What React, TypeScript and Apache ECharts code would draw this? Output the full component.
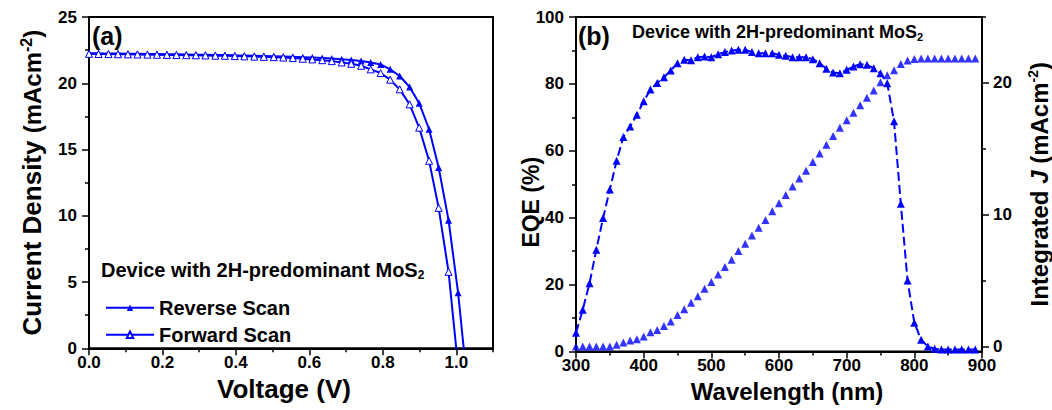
import React, { useEffect, useRef } from 'react';
import * as echarts from 'echarts';

// ---------- Data ----------
const voltages = [
  0, 0.026, 0.053, 0.079, 0.106, 0.132, 0.159, 0.185, 0.212, 0.238,
  0.265, 0.291, 0.317, 0.344, 0.37, 0.397, 0.423, 0.45, 0.476, 0.503,
  0.529, 0.555, 0.582, 0.608, 0.635, 0.661, 0.688, 0.714, 0.741, 0.767,
  0.794, 0.82, 0.846, 0.873, 0.899, 0.926, 0.952, 0.979, 1.005, 1.032,
];
const reverseJ = [
  22.27, 22.26, 22.25, 22.24, 22.23, 22.22, 22.21, 22.2, 22.19, 22.18,
  22.17, 22.16, 22.15, 22.14, 22.13, 22.11, 22.1, 22.08, 22.06, 22.04,
  22.02, 22.0, 21.97, 21.94, 21.91, 21.87, 21.82, 21.75, 21.68, 21.56,
  21.42, 21.05, 20.55, 19.72, 18.5, 16.53, 13.64, 9.67, 4.19, -3.2,
];
const forwardJ = [
  22.22, 22.21, 22.2, 22.19, 22.18, 22.17, 22.16, 22.15, 22.14, 22.13,
  22.12, 22.11, 22.1, 22.08, 22.07, 22.05, 22.03, 22.01, 21.99, 21.97,
  21.94, 21.9, 21.85, 21.8, 21.74, 21.67, 21.57, 21.47, 21.32, 21.05,
  20.77, 20.27, 19.54, 18.41, 16.65, 14.15, 10.6, 5.77, -1.4,
];
const wavelengths = [
  300, 310, 320, 330, 340, 350, 360, 370, 380, 390,
  400, 410, 420, 430, 440, 450, 460, 470, 480, 490,
  500, 510, 520, 530, 540, 550, 560, 570, 580, 590,
  600, 610, 620, 630, 640, 650, 660, 670, 680, 690,
  700, 710, 720, 730, 740, 750, 760, 770, 780, 790,
  800, 810, 820, 830, 840, 850, 860, 870, 880, 890,
];
const eqe = [
  5.6, 12.5, 20.4, 30.4, 39.9, 48.4, 57, 64.1, 67.3, 70.8,
  74.8, 78.3, 80.3, 82, 84, 86.2, 87.2, 87.1, 88, 88.2,
  88, 88.9, 89.5, 90, 90.2, 90.2, 89.5, 89.2, 89.2, 89.2,
  88.7, 88.4, 88, 88, 88, 87.4, 86.2, 84.5, 83.4, 83.2,
  84.2, 85.2, 85.9, 85.7, 84.7, 83.2, 80.2, 68.8, 44.2, 21.2,
  8.6, 3.5, 1.5, 0.8, 0.6, 0.6, 0.6, 0.6, 0.6, 0.6,
];
const integratedJ = [
  0, 0, 0, 0, 0, 0, 0.13, 0.3, 0.45, 0.55,
  0.75, 1.08, 1.26, 1.56, 1.89, 2.39, 2.82, 3.32, 3.82, 4.38,
  4.9, 5.46, 6.04, 6.59, 7.25, 7.8, 8.43, 9.0, 9.6, 10.26,
  10.87, 11.5, 12.13, 12.75, 13.33, 14.0, 14.64, 15.3, 15.97, 16.6,
  17.16, 17.74, 18.3, 18.87, 19.42, 20.05, 20.58, 20.96, 21.43, 21.69,
  21.82, 21.85, 21.85, 21.85, 21.85, 21.85, 21.85, 21.85, 21.85, 21.85,
];
const voltMajorTicks = [0, 0.2, 0.4, 0.6, 0.8, 1.0];
const voltMinorTicks = [0.1, 0.3, 0.5, 0.7, 0.9, 1.1];
const intJMajorTicks = [0, 10, 20];
const intJMinorTicks = [5, 15, 25];

const BLUE = '#0000ff';
const FONT = 'Liberation Sans';

export default function App() {
  const ref = useRef<HTMLDivElement>(null);

  useEffect(() => {
    const chart = echarts.init(ref.current as HTMLDivElement, null, { renderer: 'svg' });

    const line = { lineStyle: { color: '#000', width: 2 } };
    const label = (margin: number) => ({
      color: '#000',
      fontSize: 17,
      fontWeight: 'bold',
      fontFamily: FONT,
      margin,
    });
    const tick = { show: true, inside: false, length: 7, lineStyle: { color: '#000', width: 1.5 } };
    const minor = { show: true, splitNumber: 2, length: 4, lineStyle: { color: '#000', width: 1.5 } };
    const titleStyle = (size: number) => ({
      color: '#000',
      fontSize: size,
      fontWeight: 'bold',
      fontFamily: FONT,
    });
    const richName = (size: number) => ({
      t: { ...titleStyle(size), lineHeight: size + 2 },
      i: { ...titleStyle(size), fontStyle: 'italic', lineHeight: size + 2 },
      m: { ...titleStyle(size - 2), lineHeight: size + 2 },
      s: { ...titleStyle(Math.round(size * 0.6)), lineHeight: Math.round(size * 0.6), verticalAlign: 'top' },
    });

    chart.setOption({
      animation: false,
      backgroundColor: '#fff',
      grid: [
        { left: 89, top: 17, width: 404, height: 331.3, show: true, borderColor: '#000', borderWidth: 2, backgroundColor: 'transparent' },
        { left: 576, top: 17, width: 406, height: 334.5, show: true, borderColor: '#000', borderWidth: 2, backgroundColor: 'transparent' },
      ],
      xAxis: [
        {
          type: 'value', gridIndex: 0, position: 'bottom', min: 0, max: 1.1,
          axisLine: line,
          axisTick: { ...tick, customValues: voltMajorTicks },
          axisLabel: { ...label(6), customValues: voltMajorTicks, formatter: (v: number) => v.toFixed(1) },
          splitLine: { show: false },
          name: 'Voltage (V)', nameLocation: 'middle', nameGap: 28, nameMoveOverlap: false,
          nameTextStyle: { ...titleStyle(26), padding: [0, 14, 0, 0] },
        },
        {
          type: 'value', gridIndex: 0, position: 'bottom', min: 0, max: 1.1,
          axisLine: { show: false },
          axisTick: { ...tick, length: 4, customValues: voltMinorTicks },
          axisLabel: { show: false },
          splitLine: { show: false },
        },
        {
          type: 'value', gridIndex: 1, position: 'bottom', min: 300, max: 900, interval: 100,
          axisLine: line, axisTick: tick, minorTick: minor,
          axisLabel: label(5),
          splitLine: { show: false }, minorSplitLine: { show: false },
          name: 'Wavelength (nm)', nameLocation: 'middle', nameGap: 28, nameMoveOverlap: false,
          nameTextStyle: { ...titleStyle(24), padding: [0, 0, 0, 16] },
        },
      ],
      yAxis: [
        {
          type: 'value', gridIndex: 0, position: 'left', min: 0, max: 25, interval: 5,
          axisLine: line, axisTick: tick, minorTick: minor,
          axisLabel: label(12),
          splitLine: { show: false }, minorSplitLine: { show: false },
          name: '{t|Current Density }{m|(mAcm}{s|-2}{m|)}',
          nameLocation: 'middle', nameGap: 43, nameMoveOverlap: false,
          nameTextStyle: { rich: richName(26) },
        },
        {
          type: 'value', gridIndex: 1, position: 'left', min: 0, max: 100, interval: 20,
          axisLine: line, axisTick: tick, minorTick: minor,
          axisLabel: label(12),
          splitLine: { show: false }, minorSplitLine: { show: false },
          name: '{t|EQE (%)}',
          nameLocation: 'middle', nameGap: 33, nameMoveOverlap: false,
          nameTextStyle: { rich: richName(23), padding: [0, 36, 0, 0] },
        },
        {
          type: 'value', gridIndex: 1, position: 'right', min: -0.38, max: 25,
          axisLine: line,
          axisTick: { ...tick, customValues: intJMajorTicks },
          axisLabel: { ...label(11), customValues: intJMajorTicks },
          splitLine: { show: false },
          name: '{t|Integrated }{i|J}{t| (mAcm}{s|-2}{t|)}',
          nameLocation: 'middle', nameGap: 44, nameMoveOverlap: false,
          nameTextStyle: { rich: richName(24) },
        },
        {
          type: 'value', gridIndex: 1, position: 'right', min: -0.38, max: 25,
          axisLine: { show: false },
          axisTick: { ...tick, length: 4, customValues: intJMinorTicks },
          axisLabel: { show: false },
          splitLine: { show: false },
        },
      ],
      legend: {
        data: ['Reverse Scan', 'Forward Scan'],
        orient: 'vertical',
        left: 100,
        top: 292.7,
        itemWidth: 48,
        itemHeight: 8,
        itemGap: 7,
        textStyle: { color: '#000', fontSize: 20, fontWeight: 'bold', fontFamily: FONT, lineHeight: 20 },
        selectedMode: false,
      },
      graphic: [
        {
          type: 'text', x: 92, y: 36,
          style: { text: '(a)', fill: '#000', fontSize: 25, fontWeight: 'bold', fontFamily: FONT, verticalAlign: 'middle' },
        },
        {
          type: 'text', x: 578, y: 36,
          style: { text: '(b)', fill: '#000', fontSize: 25, fontWeight: 'bold', fontFamily: FONT, verticalAlign: 'middle' },
        },
        {
          type: 'text', x: 101, y: 259,
          style: {
            text: '{a|Device with 2H-predominant MoS}{b|2}',
            rich: {
              a: { fontSize: 20, fontWeight: 'bold', fontFamily: FONT, fill: '#000', lineHeight: 22 },
              b: { fontSize: 12, fontWeight: 'bold', fontFamily: FONT, fill: '#000', lineHeight: 12, verticalAlign: 'bottom', padding: [12, 0, 0, 0] },
            },
          },
        },
        {
          type: 'text', x: 632, y: 22,
          style: {
            text: '{a|Device with 2H-predominant MoS}{b|2}',
            rich: {
              a: { fontSize: 18, fontWeight: 'bold', fontFamily: FONT, fill: '#000', lineHeight: 20 },
              b: { fontSize: 11, fontWeight: 'bold', fontFamily: FONT, fill: '#000', lineHeight: 11, verticalAlign: 'bottom', padding: [11, 0, 0, 0] },
            },
          },
        },
      ],
      series: [
        {
          name: 'Reverse Scan', type: 'line', xAxisIndex: 0, yAxisIndex: 0,
          data: voltages.map((v, i) => [v, reverseJ[i]]),
          symbol: 'triangle', symbolSize: 7, clip: true,
          itemStyle: { color: BLUE },
          lineStyle: { color: BLUE, width: 2 },
        },
        {
          name: 'Forward Scan', type: 'line', xAxisIndex: 0, yAxisIndex: 0,
          data: forwardJ.map((j, i) => [voltages[i], j]),
          symbol: 'triangle', symbolSize: 7, clip: true,
          itemStyle: { color: '#fff', borderColor: BLUE, borderWidth: 1 },
          lineStyle: { color: BLUE, width: 2 },
        },
        {
          name: 'EQE', type: 'line', xAxisIndex: 2, yAxisIndex: 1,
          data: wavelengths.map((w, i) => [w, eqe[i]]),
          symbol: 'triangle', symbolSize: 8,
          itemStyle: { color: BLUE },
          lineStyle: { color: BLUE, width: 2, type: [9, 4] },
        },
        {
          name: 'Integrated J', type: 'scatter', xAxisIndex: 2, yAxisIndex: 2,
          data: wavelengths.map((w, i) => [w, integratedJ[i]]),
          symbol: 'triangle', symbolSize: 8,
          itemStyle: { color: BLUE },
        },
      ],
    });

    return () => chart.dispose();
  }, []);

  return (
    <div
      ref={ref}
      style={{ position: 'fixed', left: 0, top: 0, width: 1052, height: 410, background: '#fff' }}
    />
  );
}
